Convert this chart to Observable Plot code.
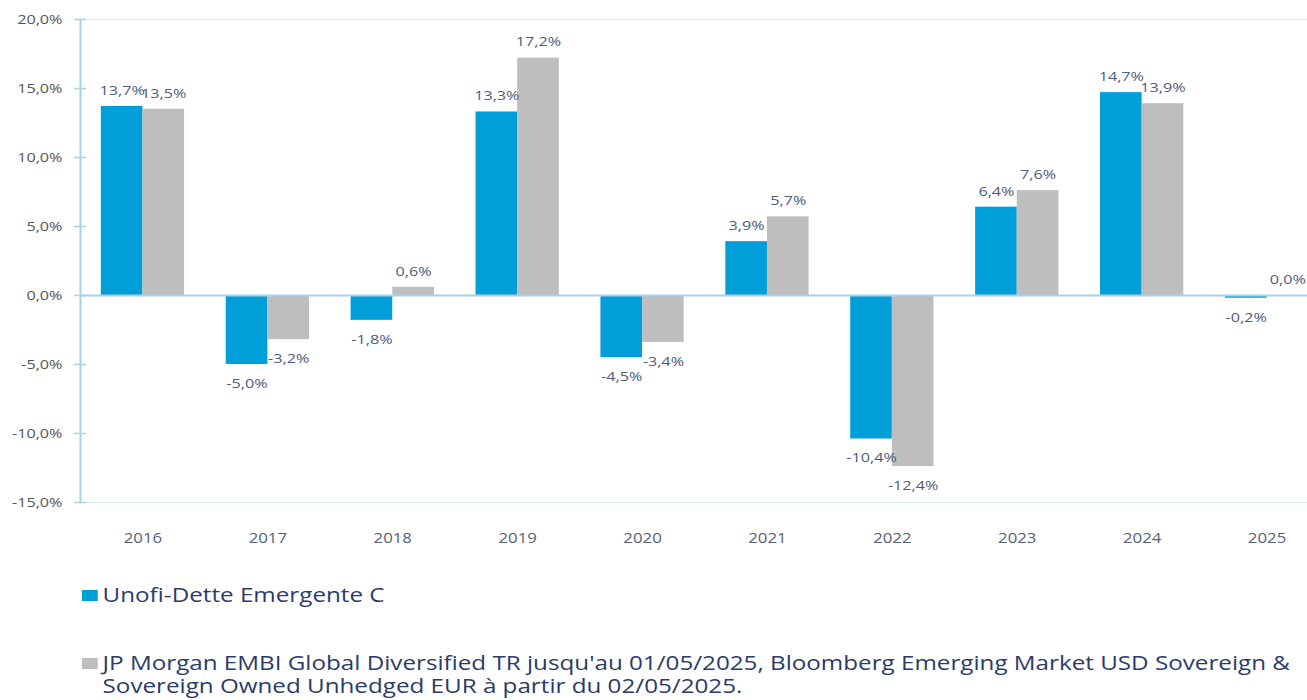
<!DOCTYPE html>
<html>
<head>
<meta charset="utf-8">
<script src="https://cdn.jsdelivr.net/npm/d3@7"></script>
<script src="https://cdn.jsdelivr.net/npm/@observablehq/plot@0.6"></script>
<style>
  html, body { margin: 0; padding: 0; background: #fff; width: 1307px; height: 700px; overflow: hidden; }
  #chart { position: absolute; left: 0; top: 0; }
  .legend { position: absolute; left: 82px; font-family: "Open Sans", sans-serif; font-size: 20px; color: #2b3b6a; line-height: 23px;
            transform: scaleX(1.21); transform-origin: 0 0; }
  .legend .sw { display: inline-block; width: 13px; height: 11px; margin-right: 4px; vertical-align: 1px; }
  #leg1 { top: 583px; }
  #leg2 { top: 651px; width: 1060px; padding-left: 17px; text-indent: -17px; }
</style>
</head>
<body>
<div id="chart"></div>
<div class="legend" id="leg1"><span class="sw" id="sw1"></span><span id="t1"></span></div>
<div class="legend" id="leg2"><span class="sw" id="sw2"></span><span id="t2"></span></div>
<script>
const years = ["2016","2017","2018","2019","2020","2021","2022","2023","2024","2025"];
const fundValues = [13.7, -5.0, -1.8, 13.3, -4.5, 3.9, -10.4, 6.4, 14.7, -0.2];
const benchValues = [13.5, -3.2, 0.6, 17.2, -3.4, 5.7, -12.4, 7.6, 13.9, 0.0];
const seriesNames = [
  "Unofi-Dette Emergente C",
  "JP Morgan EMBI Global Diversified TR jusqu'au 01/05/2025, Bloomberg Emerging Market USD Sovereign & Sovereign Owned Unhedged EUR à partir du 02/05/2025."
];
const seriesColors = ["#009fda", "#bebebe"];
const yTicks = [-15, -10, -5, 0, 5, 10, 15, 20];

const rows = [];
years.forEach((yr, i) => {
  rows.push({year: yr, series: seriesNames[0], value: fundValues[i]});
  rows.push({year: yr, series: seriesNames[1], value: benchValues[i]});
});
const fmt = v => v.toFixed(1).replace(".", ",") + "%";

const font = "'Open Sans', sans-serif";
const axisBlue = "#a6d3e6";

const chart = Plot.plot({
  width: 1307,
  height: 560,
  marginTop: 19,
  marginBottom: 58,
  marginLeft: 80,
  marginRight: -22,
  style: {fontFamily: font, background: "transparent"},
  fx: {domain: years, padding: 0, round: false, label: null},
  x: {domain: seriesNames, paddingInner: 0, paddingOuter: 0.5, round: false, axis: null},
  y: {domain: [-15, 20], ticks: yTicks, label: null, axis: null},
  color: {domain: seriesNames, range: seriesColors},
  marks: [
    Plot.ruleY([20, -15], {stroke: "#d6e9ef", strokeWidth: 1.2}),
    Plot.barY(rows, {fx: "year", x: "series", y: "value", fill: "series"}),
    Plot.ruleY([0], {stroke: "#a9d0ea", strokeWidth: 2}),
    Plot.frame({anchor: "left", facetAnchor: "left", stroke: axisBlue, strokeWidth: 2}),
    Plot.axisY({ticks: yTicks, tickSize: 12, dx: 6, text: null, stroke: axisBlue, strokeWidth: 1.5, facetAnchor: "left"}),
    Plot.axisY({ticks: yTicks, tickSize: 0, tickPadding: 18, tickFormat: fmt, fontSize: 13.5, fill: "#555", facetAnchor: "left"}),
    Plot.axisFx({anchor: "bottom", tickSize: 0, tickPadding: 31, fontSize: 14, fill: "#56627a", label: null}),
    Plot.text(rows.filter(d => d.value >= 0), {fx: "year", x: "series", y: "value", text: d => fmt(d.value), dy: -16, fontSize: 13.5, fill: "#4d5c7e"}),
    Plot.text(rows.filter(d => d.value < 0), {fx: "year", x: "series", y: "value", text: d => fmt(d.value), dy: 19, fontSize: 13.5, fill: "#4d5c7e"})
  ]
});
// the reference typography is horizontally stretched: widen each label around its own anchor
chart.querySelectorAll("text").forEach(t => {
  const tr = t.getAttribute("transform");
  if (tr && tr.startsWith("translate")) t.setAttribute("transform", tr + " scale(1.2,1)");
});
document.getElementById("chart").appendChild(chart);
document.getElementById("sw1").style.background = seriesColors[0];
document.getElementById("sw2").style.background = seriesColors[1];
document.getElementById("t1").textContent = seriesNames[0];
document.getElementById("t2").textContent = seriesNames[1];
</script>
</body>
</html>
